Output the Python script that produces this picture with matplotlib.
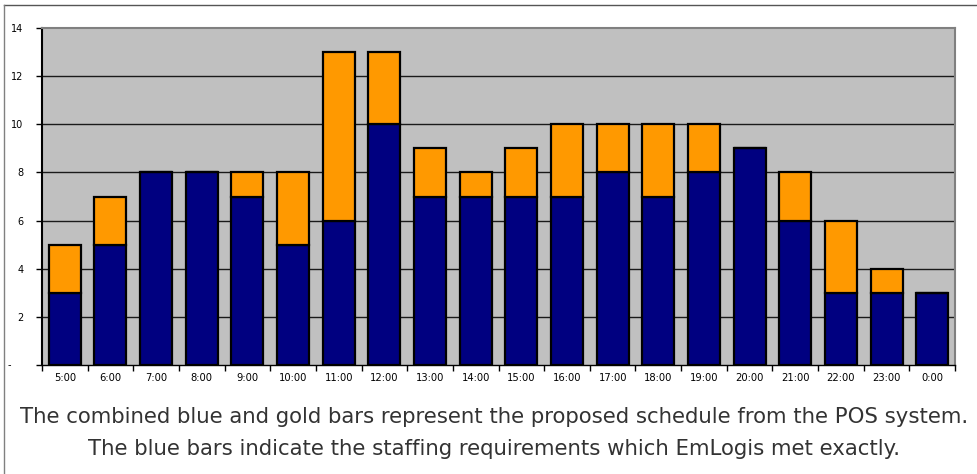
import matplotlib
matplotlib.use("Agg")
import matplotlib.pyplot as plt
import matplotlib.transforms as mtransforms
import numpy as np

hours = ["5:00", "6:00", "7:00", "8:00", "9:00", "10:00", "11:00", "12:00", "13:00", "14:00",
         "15:00", "16:00", "17:00", "18:00", "19:00", "20:00", "21:00", "22:00", "23:00", "0:00"]
required = [3, 5, 8, 8, 7, 5, 6, 10, 7, 7, 7, 7, 8, 7, 8, 9, 6, 3, 3, 3]
proposed = [5, 7, 8, 8, 8, 8, 13, 13, 9, 8, 9, 10, 10, 10, 10, 9, 8, 6, 4, 3]
extra = [p - r for p, r in zip(proposed, required)]
yticks = [0, 2, 4, 6, 8, 10, 12, 14]
ylabels = ["", "2", "4", "6", "8", "10", "12", "14"]
zero_label = "-"

W, H = 977, 474
fig = plt.figure(figsize=(W / 100, H / 100), dpi=100)
fig.patch.set_facecolor("white")

ax = fig.add_axes([42 / W, 1 - 365 / H, (955 - 42) / W, (365 - 28) / H])
ax.set_facecolor("#C0C0C0")
x = np.arange(len(hours))
ax.bar(x, required, width=0.70, color="#000080", edgecolor="black", linewidth=1.6, zorder=3)
ax.bar(x, extra, width=0.70, bottom=required, color="#FF9900", edgecolor="black", linewidth=1.6, zorder=3)

ax.set_xlim(-0.5, len(hours) - 0.5)
ax.set_ylim(0, 14)
ax.set_yticks(yticks)
ax.set_yticklabels(ylabels, fontsize=7, fontstretch="expanded")
for y in yticks[1:-1]:
    ax.axhline(y, color="#1a1a1a", linewidth=1.0, zorder=1)

# zero label sits further left, as in the original
trans = mtransforms.blended_transform_factory(fig.transFigure, ax.transData)
ax.text(8 / W, 0, zero_label, transform=trans, ha="left", va="center", fontsize=7)

ax.set_xticks(x)
ax.set_xticklabels(hours, fontsize=7.2)
ax.set_xticks(np.arange(-0.5, len(hours)), minor=True)
ax.tick_params(axis="x", which="major", length=0, pad=6)
ax.tick_params(axis="x", which="minor", length=4, width=1, direction="out", color="black")
ax.tick_params(axis="y", length=4, width=1, direction="out", pad=9.5)
ax.spines["left"].set_color("black")
ax.spines["left"].set_linewidth(1.5)
ax.spines["bottom"].set_color("black")
ax.spines["bottom"].set_linewidth(1.0)
ax.spines["top"].set_color("#808080")
ax.spines["top"].set_linewidth(1.5)
ax.spines["right"].set_color("#808080")
ax.spines["right"].set_linewidth(1.5)

# outer frame lines
fig.add_artist(plt.Line2D([4 / W, 976 / W], [1 - 5 / H, 1 - 5 / H], color="#555555", linewidth=1.0))
fig.add_artist(plt.Line2D([4 / W, 4 / W], [1 - 5 / H, 0], color="#808080", linewidth=1.0))

fig.text(494 / W, 1 - 423 / H,
         "The combined blue and gold bars represent the proposed schedule from the POS system.",
         ha="center", va="baseline", fontsize=15.3, color="#333333", family="DejaVu Sans")
fig.text(494 / W, 1 - 455 / H,
         "The blue bars indicate the staffing requirements which EmLogis met exactly.",
         ha="center", va="baseline", fontsize=15.3, color="#333333", family="DejaVu Sans")

fig.savefig("out.png", dpi=100)
